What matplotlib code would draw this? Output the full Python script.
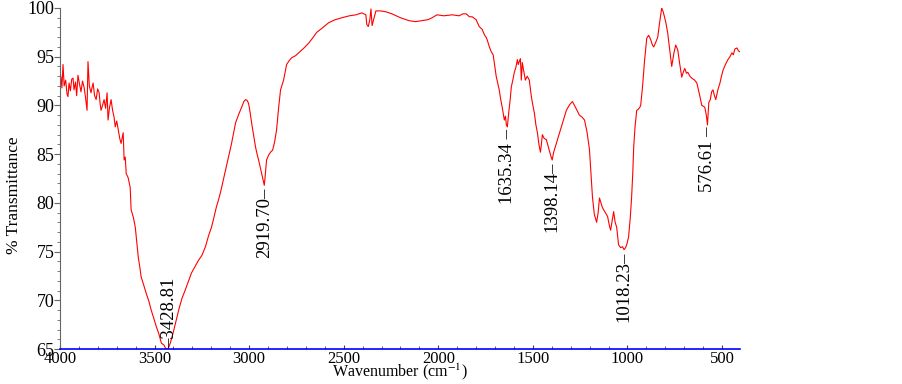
import matplotlib
matplotlib.use("Agg")
import matplotlib.pyplot as plt
from matplotlib.ticker import MultipleLocator

## Spectrum (wavenumber in cm-1, % transmittance)
wavenumber = [
    4000, 3995, 3990, 3984, 3978, 3970, 3963, 3958, 3952, 3945, 3938, 3931, 3926, 3918,
    3912, 3905, 3897, 3889, 3881, 3873, 3865, 3857, 3852, 3845, 3836, 3830, 3825, 3817,
    3809, 3801, 3793, 3788, 3783, 3775, 3767, 3759, 3751, 3746, 3738, 3730, 3722, 3714,
    3708, 3700, 3692, 3684, 3677, 3670, 3666, 3661, 3655, 3650, 3640, 3629, 3624, 3612,
    3602, 3594, 3586, 3578, 3571, 3558, 3544, 3530, 3518, 3505, 3491, 3478, 3464, 3450,
    3440, 3429, 3417, 3400, 3385, 3370, 3355, 3337, 3320, 3305, 3285, 3268, 3250, 3231,
    3215, 3199, 3185, 3173, 3162, 3150, 3136, 3115, 3093, 3072, 3055, 3040, 3028, 3019,
    3010, 3003, 2995, 2987, 2976, 2966, 2958, 2950, 2935, 2920, 2914, 2908, 2897, 2887,
    2876, 2865, 2855, 2844, 2834, 2818, 2802, 2788, 2775, 2755, 2738, 2710, 2685, 2665,
    2643, 2610, 2579, 2545, 2510, 2470, 2436, 2404, 2383, 2378, 2370, 2362, 2356, 2350,
    2346, 2330, 2303, 2275, 2245, 2200, 2155, 2120, 2086, 2055, 2033, 2007, 1970, 1927,
    1890, 1870, 1853, 1835, 1821, 1800, 1784, 1768, 1755, 1747, 1741, 1730, 1720, 1710,
    1704, 1694, 1686, 1678, 1670, 1662, 1651, 1645, 1640, 1635, 1628, 1620, 1614, 1606,
    1598, 1590, 1582, 1577, 1572, 1566, 1561, 1556, 1548, 1540, 1530, 1519, 1508, 1500,
    1492, 1484, 1476, 1468, 1460, 1455, 1450, 1440, 1429, 1415, 1405, 1398, 1390, 1376,
    1362, 1349, 1336, 1323, 1305, 1291, 1272, 1254, 1240, 1227, 1214, 1201, 1193, 1185,
    1175, 1163, 1155, 1148, 1140, 1132, 1120, 1105, 1095, 1089, 1080, 1073, 1065, 1057,
    1047, 1036, 1026, 1018, 1010, 1004, 994, 985, 978, 972, 967, 960, 951, 943,
    935, 930, 920, 910, 898, 888, 878, 868, 861, 850, 840, 830, 819, 811,
    803, 795, 787, 776, 766, 755, 745, 734, 724, 713, 705, 697, 688, 681,
    670, 660, 645, 633, 620, 607, 597, 591, 583, 577, 570, 562, 555, 548,
    540, 533, 522, 511, 503, 495, 482, 469, 458, 448, 440, 432, 421, 413, 405,
]
transmittance = [
    93.3, 92.9, 91.8, 94.2, 92.0, 92.6, 91.2, 90.9, 92.3, 91.5, 92.7, 92.8, 91.6, 92.4,
    91.0, 93.1, 92.2, 91.4, 92.5, 91.9, 90.8, 89.5, 94.5, 92.0, 91.3, 91.9, 92.3, 91.0,
    90.6, 91.7, 91.3, 90.2, 89.5, 90.0, 90.6, 89.7, 91.3, 88.5, 89.8, 90.6, 89.5, 88.8,
    87.8, 88.4, 87.5, 86.6, 86.1, 86.8, 87.2, 84.4, 84.7, 83.0, 82.6, 81.6, 79.3, 78.5,
    77.5, 76.0, 74.4, 73.4, 72.4, 71.6, 70.7, 69.9, 69.0, 68.2, 67.3, 66.6, 65.6, 65.4,
    65.0, 65.0, 65.6, 66.8, 68.0, 69.2, 70.2, 71.1, 72.0, 72.8, 73.5, 74.1, 74.6, 75.5,
    76.6, 77.5, 78.6, 79.6, 80.3, 81.2, 82.4, 84.2, 86.1, 88.2, 89.1, 89.8, 90.4, 90.6,
    90.5, 90.2, 89.3, 88.2, 86.9, 85.7, 85.0, 84.4, 83.1, 81.8, 83.0, 84.4, 84.9, 85.2,
    85.4, 86.3, 87.5, 89.8, 91.6, 92.6, 94.2, 94.6, 94.9, 95.1, 95.4, 95.9, 96.4, 96.9,
    97.5, 98.0, 98.5, 98.8, 99.0, 99.2, 99.3, 99.5, 99.3, 98.3, 98.1, 98.8, 99.9, 98.2,
    98.5, 99.7, 99.7, 99.6, 99.4, 99.0, 98.7, 98.6, 98.7, 98.8, 99.0, 99.3, 99.2, 99.3,
    99.2, 99.4, 99.4, 99.1, 99.1, 98.8, 98.1, 97.8, 97.2, 97.0, 96.7, 96.0, 95.5, 95.2,
    94.4, 93.0, 92.3, 91.6, 90.6, 89.8, 88.5, 88.9, 88.0, 87.8, 89.2, 90.6, 91.9, 92.6,
    93.4, 93.9, 94.7, 94.2, 94.5, 94.8, 92.6, 94.4, 93.5, 92.6, 93.0, 92.6, 90.9, 90.0,
    89.2, 88.0, 87.2, 86.0, 85.2, 86.0, 87.0, 86.6, 86.5, 85.5, 84.8, 84.4, 85.2, 86.1,
    87.0, 87.8, 88.7, 89.5, 90.1, 90.4, 89.7, 89.0, 88.8, 88.5, 87.3, 85.5, 83.0, 80.6,
    78.8, 78.0, 79.0, 80.5, 80.0, 79.5, 79.1, 78.6, 77.6, 77.2, 78.3, 79.1, 78.0, 77.5,
    75.7, 75.4, 75.5, 75.2, 75.4, 75.7, 76.5, 78.5, 80.6, 83.0, 85.7, 87.8, 89.5, 89.6,
    89.8, 90.0, 92.0, 94.5, 96.9, 97.2, 96.8, 96.2, 96.0, 96.5, 97.0, 98.5, 100.0, 99.6,
    99.0, 98.3, 97.4, 95.6, 94.0, 95.3, 96.2, 95.7, 94.3, 92.9, 93.4, 93.8, 93.3, 93.4,
    93.0, 92.8, 92.6, 92.3, 91.2, 90.0, 89.9, 89.8, 89.0, 88.0, 90.3, 90.6, 91.4, 91.6,
    91.0, 90.6, 91.6, 92.3, 93.0, 93.6, 94.2, 94.7, 95.0, 95.4, 95.2, 95.8, 95.9, 95.6, 95.5,
]

## Labelled peaks
peak_wn = [3428.81, 2919.70, 1635.34, 1398.14, 1018.23, 576.61]
peak_t = [65.0, 81.8, 87.8, 84.4, 75.2, 88.1]
peak_text = ["\u20133428.81", "2919.70\u2013", "1635.34 \u2013", "1398.14\u2013", "1018.23\u2013", "576.61 \u2013"]
peak_above = [True, False, False, False, False, False]

plt.rcParams['font.family'] = ['Liberation Serif', 'DejaVu Serif']
plt.rcParams['mathtext.fontset'] = 'stix'

fig = plt.figure(figsize=(9.03, 3.84), dpi=100)
ax = fig.add_axes([60 / 903, 35 / 384, 680 / 903, 341 / 384])

ax.plot(wavenumber, transmittance, color='#ff0000', linewidth=0.8)

for w, t, s, above in zip(peak_wn, peak_t, peak_text, peak_above):
    if above:
        ax.annotate(s, (w, t), xytext=(1.5, 1), textcoords='offset points',
                    rotation=90, ha='center', va='bottom', fontsize=13.5)
    else:
        ax.annotate(s, (w, t), xytext=(0, -1.5), textcoords='offset points',
                    rotation=90, ha='center', va='top', fontsize=13.5)

ax.set_xlim(4000, 405)
ax.set_ylim(65, 100)
ax.xaxis.set_major_locator(MultipleLocator(500))
ax.xaxis.set_minor_locator(MultipleLocator(100))
ax.yaxis.set_major_locator(MultipleLocator(5))
ax.yaxis.set_minor_locator(MultipleLocator(1))

ax.spines['top'].set_visible(False)
ax.spines['right'].set_visible(False)
ax.spines['bottom'].set_color('#0000ff')
ax.spines['bottom'].set_linewidth(1.2)
ax.spines['left'].set_color('#666666')
ax.spines['left'].set_linewidth(0.8)

ax.tick_params(axis='y', which='major', direction='out', length=4, color='#666666', labelsize=13, pad=0)
ax.tick_params(axis='y', which='minor', direction='out', length=2, color='#666666')
ax.tick_params(axis='x', which='major', direction='in', length=3, color='#444444', labelsize=12, pad=1.5)
ax.tick_params(axis='x', which='minor', direction='in', length=2, color='#444444')

ax.set_xlabel('Wavenumber (cm$^{-1}$)', fontsize=11.5, va='bottom')
ax.xaxis.set_label_coords(0.5, -0.098)
ax.set_ylabel('% Transmittance', fontsize=12.5)
ax.yaxis.set_label_coords(-0.056, 0.45)

fig.savefig('out.png', dpi=100)
